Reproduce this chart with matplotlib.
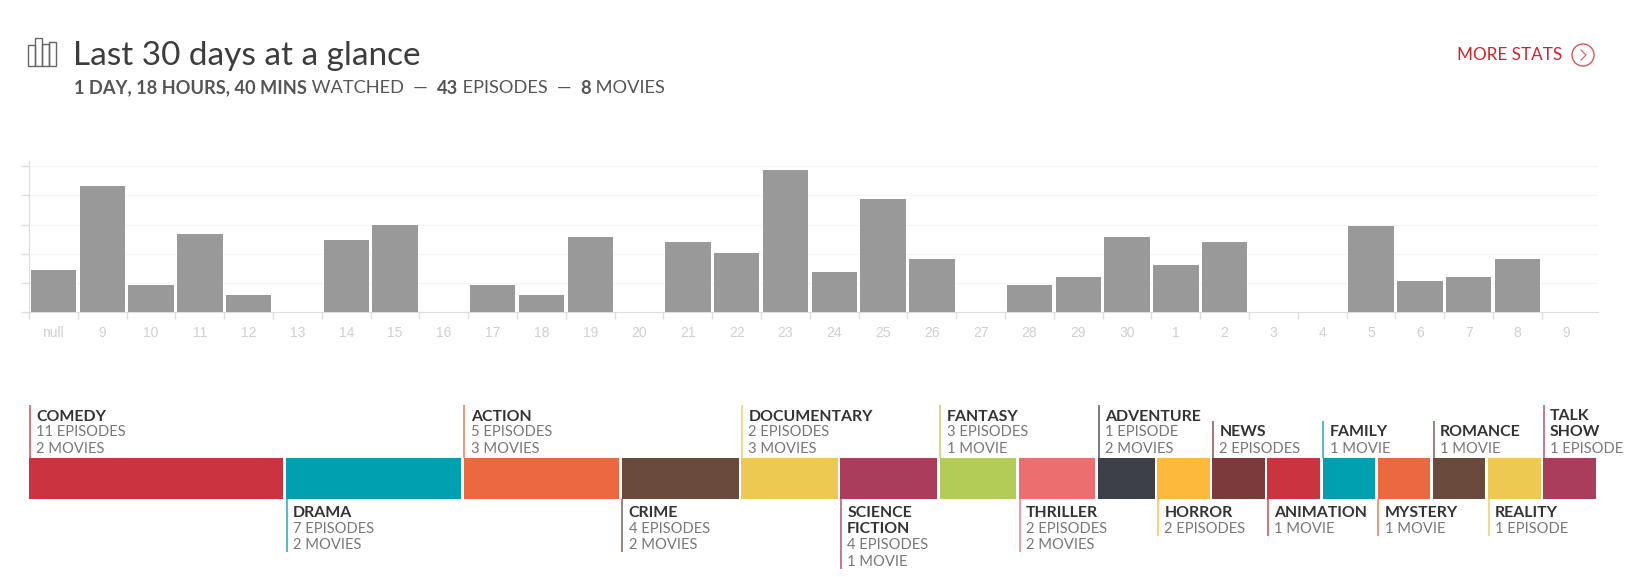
import matplotlib
matplotlib.use('Agg')
import matplotlib.pyplot as plt
from matplotlib.patches import Circle, Rectangle

plt.rcParams['font.family'] = ['Lato', 'DejaVu Sans']

W, H = 1630, 577

# daily watch time, in gridline units
days = ['null', '9', '10', '11', '12', '13', '14', '15', '16', '17', '18', '19', '20', '21', '22', '23',
        '24', '25', '26', '27', '28', '29', '30', '1', '2', '3', '4', '5', '6', '7', '8', '9']
watched = [1.43, 4.32, 0.93, 2.68, 0.6, 0, 2.46, 2.98, 0, 0.93, 0.6, 2.57, 0, 2.4, 2.02, 4.87,
           1.36, 3.89, 1.82, 0, 0.93, 1.21, 2.57, 1.61, 2.4, 0, 0, 2.95, 1.05, 1.21, 1.82, 0]

# genre strip
genres = ['COMEDY', 'DRAMA', 'ACTION', 'CRIME', 'DOCUMENTARY', 'SCIENCE\nFICTION', 'FANTASY', 'THRILLER',
          'ADVENTURE', 'HORROR', 'NEWS', 'ANIMATION', 'FAMILY', 'MYSTERY', 'ROMANCE', 'REALITY', 'TALK\nSHOW']
counts = ['11 EPISODES\n2 MOVIES', '7 EPISODES\n2 MOVIES', '5 EPISODES\n3 MOVIES', '4 EPISODES\n2 MOVIES',
          '2 EPISODES\n3 MOVIES', '4 EPISODES\n1 MOVIE', '3 EPISODES\n1 MOVIE', '2 EPISODES\n2 MOVIES',
          '1 EPISODE\n2 MOVIES', '2 EPISODES', '2 EPISODES', '1 MOVIE', '1 MOVIE', '1 MOVIE', '1 MOVIE',
          '1 EPISODE', '1 EPISODE']
spans = [13, 9, 8, 6.06, 5, 5.03, 4.02, 4, 3, 2.79, 2.79, 2.79, 2.79, 2.79, 2.79, 2.79, 2.79]
colors = ['#CC3340', '#00A0B0', '#EB6841', '#6A4A3C', '#EDC951', '#AA3D5C', '#B3CC57', '#ED6E6E',
          '#3D4049', '#FDB93B', '#7D3A3C', '#CC3340', '#00A0B0', '#EB6841', '#6A4A3C', '#EDC951', '#AA3D5C']

fig = plt.figure(figsize=(W / 100, H / 100), dpi=100, facecolor='white')

# overlay in pixel coordinates, for header and strip
page = fig.add_axes([0, 0, 1, 1])
page.set_xlim(0, W)
page.set_ylim(H, 0)
page.axis('off')


def runs(x, y, parts, size, color):
    # text pieces in different weights, one after the other
    renderer = fig.canvas.get_renderer()
    for s, weight in parts:
        t = page.text(x, y, s, fontsize=size, color=color, fontweight=weight, va='center', ha='left')
        x = t.get_window_extent(renderer).x1


# header
page.text(73, 56, 'Last 30 days at a glance', fontsize=24, color='#3c3c3c', va='center')
runs(74, 88, [('1 DAY, 18 HOURS, 40 MINS', 'bold'), (' WATCHED  \u2014  ', 'normal'), ('43', 'bold'),
              (' EPISODES  \u2014  ', 'normal'), ('8', 'bold'), (' MOVIES', 'normal')], 13.15, '#555555')
for x0, top in [(28, 45), (35, 38), (42, 44), (49, 42)]:
    page.add_patch(Rectangle((x0, top), 7, 66 - top, fc='none', ec='#666666', lw=1))
page.text(1562, 55, 'MORE STATS', fontsize=12.35, color='#D2232A', va='center', ha='right')
page.add_patch(Circle((1583, 55), 11, fc='none', ec='#D9545B', lw=1))
page.plot([1581, 1586, 1581], [50, 55, 60], color='#D9545B', lw=0.8)

# bar chart
ax = fig.add_axes([29 / W, 1 - 312 / H, (1598 - 29) / W, (312 - 161) / H])
ax.set_facecolor('none')
ax.bar(range(len(days)), watched, width=0.93, color='#999999', zorder=3)
ax.set_xlim(-0.5, len(days) - 0.35)
ax.set_ylim(0, 5.18)
ax.set_yticks(range(6))
ax.set_yticklabels([])
ax.set_xticks([i - 0.5 for i in range(len(days))])
ax.set_xticklabels([])
ax.set_xticks(range(len(days)), labels=days, minor=True)
ax.tick_params(axis='x', which='major', length=5, color='#dddddd', width=1)
ax.tick_params(axis='x', which='minor', length=0, pad=10, labelsize=10, labelcolor='#cfcfcf')
ax.tick_params(axis='y', length=6, color='#dddddd', width=1)
for lab in ax.get_xticklabels(minor=True):
    lab.set_fontfamily('Liberation Sans')
ax.grid(axis='y', color='#f6f6f6', lw=1, zorder=0)
for side in ['top', 'right']:
    ax.spines[side].set_visible(False)
for side in ['left', 'bottom']:
    ax.spines[side].set_color('#dddddd')

# genre strip
STRIP_X, STRIP_TOP, STRIP_BOT = 29, 457.5, 499
unit = (1598.2 - STRIP_X) / sum(spans)
left = STRIP_X
LINE = 15.8
for i, (name, count, span, col) in enumerate(zip(genres, counts, spans, colors)):
    width = span * unit
    page.barh((STRIP_TOP + STRIP_BOT) / 2, width - 2.5, height=STRIP_BOT - STRIP_TOP, left=left, color=col)
    name_h = (name.count('\n') + 1) * 16.6
    count_h = (count.count('\n') + 1) * LINE
    tx = left + 7
    if i % 2 == 0:
        y_top = STRIP_TOP - 1 - count_h - name_h
        page.plot([left + 0.7, left + 0.7], [STRIP_TOP, y_top - 3], color=col, lw=1.3, alpha=0.75, solid_capstyle='butt')
    else:
        y_top = STRIP_BOT + 5.5
        page.plot([left + 0.7, left + 0.7], [STRIP_BOT, y_top + name_h + count_h - 0.5], color=col, lw=1.3, alpha=0.75, solid_capstyle='butt')
    page.text(tx, y_top + name_h / 2, name, fontsize=11.4, fontweight='bold', color='#333333', va='center',
              linespacing=1.2)
    page.text(tx, y_top + name_h + count_h / 2, count, fontsize=10.6, color='#777777', va='center',
              linespacing=1.22)
    left += width

fig.savefig('out.png', dpi=100)
